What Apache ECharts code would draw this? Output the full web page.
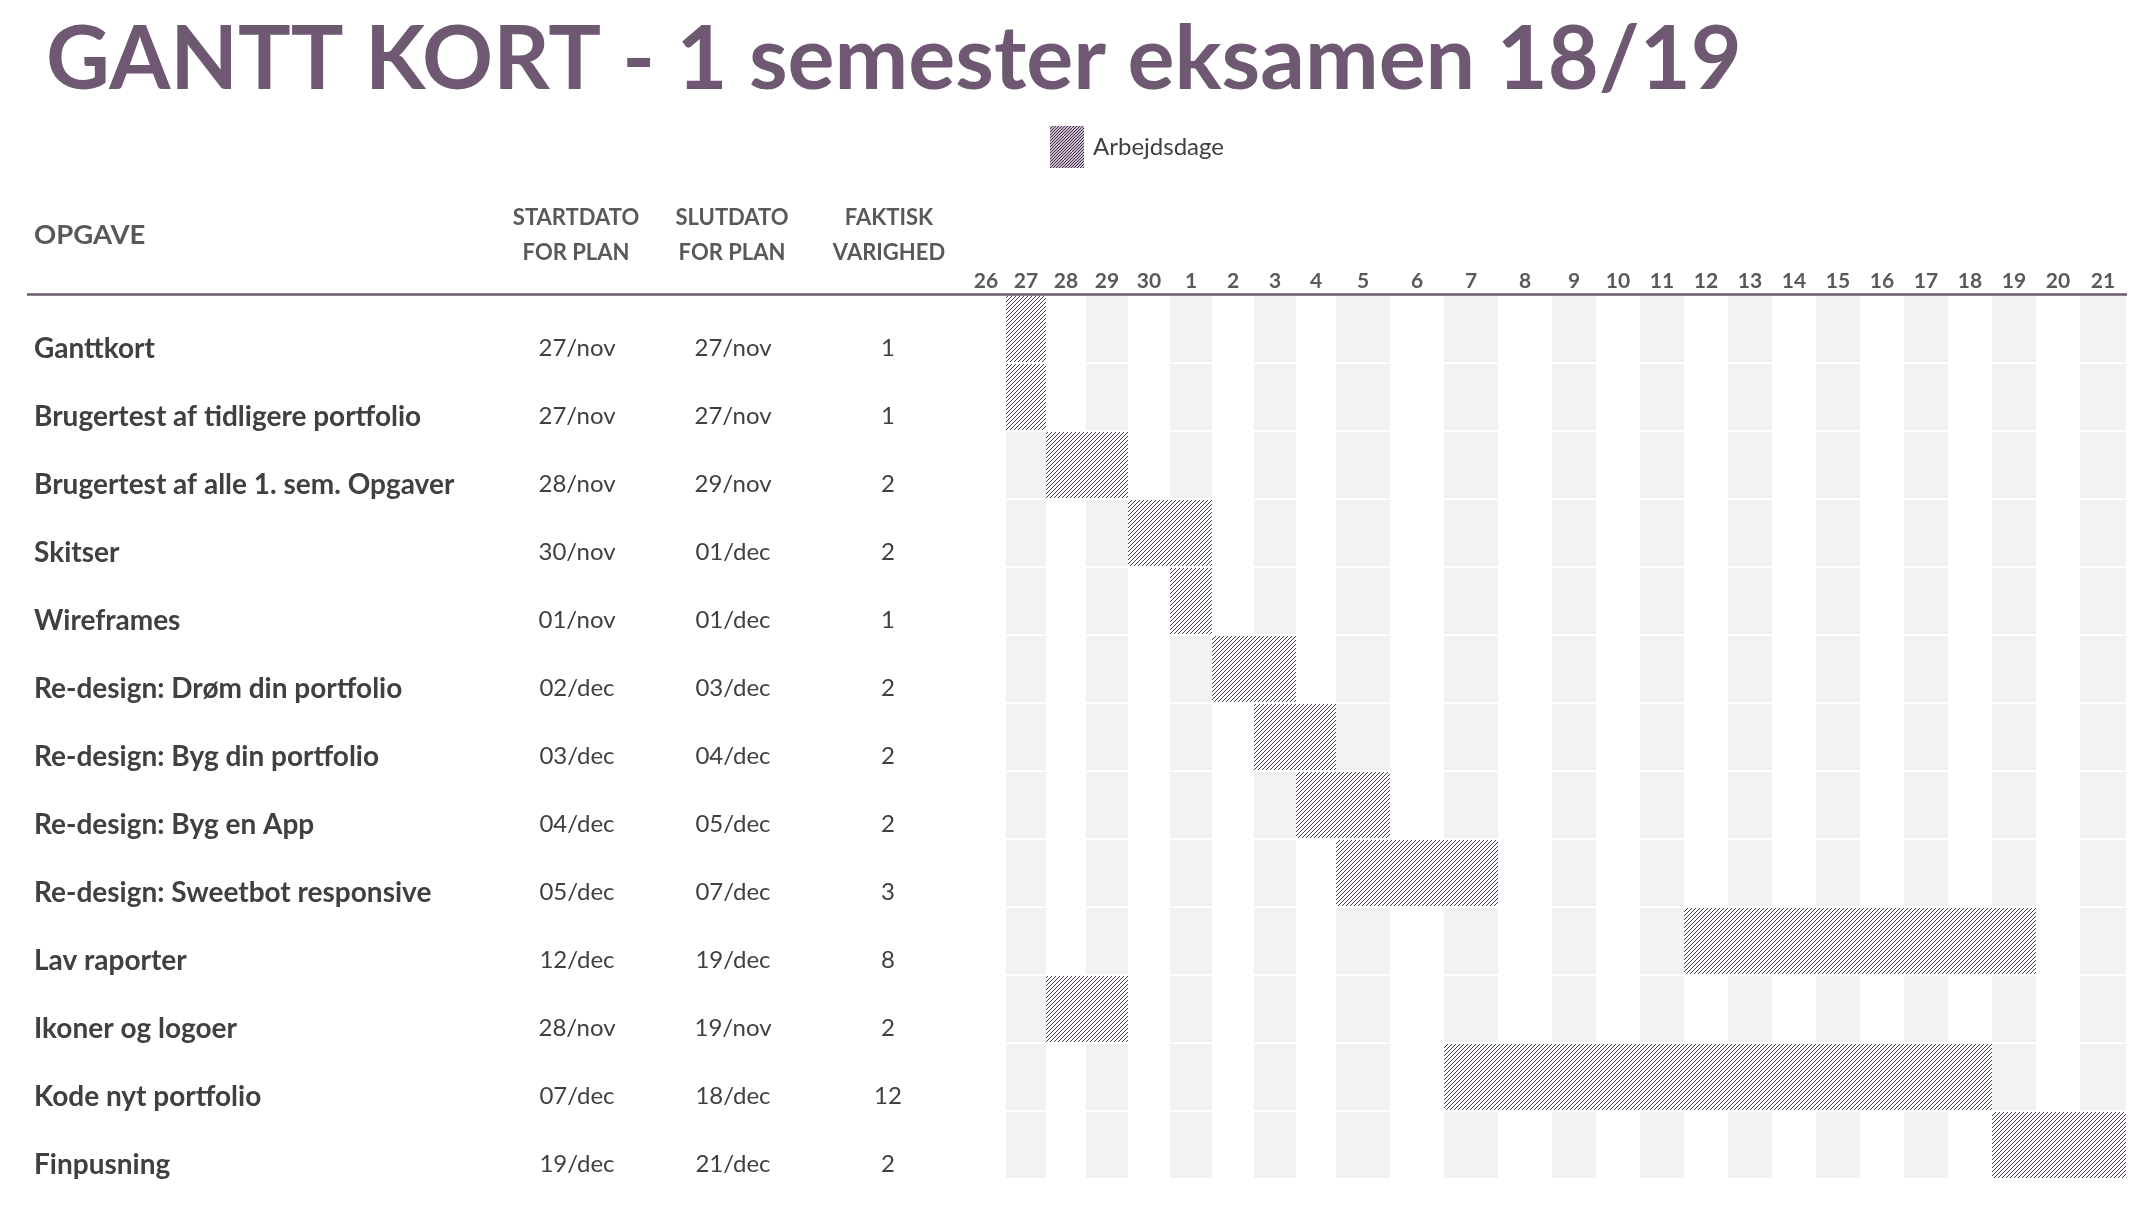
<!DOCTYPE html>
<html><head><meta charset="utf-8">
<script src="https://cdn.jsdelivr.net/npm/echarts@6/dist/echarts.min.js"></script>
<style>html,body{margin:0;padding:0;background:#fff}#c{width:2142px;height:1206px}</style>
</head><body><div id="c"></div>
<script>
// ---------------- DATA ----------------
const titleText = 'GANTT KORT - 1 semester eksamen 18/19';
const legendName = 'Arbejdsdage';
const headerTask = 'OPGAVE';
const headerStart = ['STARTDATO', 'FOR PLAN'];
const headerEnd = ['SLUTDATO', 'FOR PLAN'];
const headerDur = ['FAKTISK', 'VARIGHED'];
const days = ['26','27','28','29','30','1','2','3','4','5','6','7','8','9','10','11','12','13','14','15','16','17','18','19','20','21'];
const tasks = ['Ganttkort','Brugertest af tidligere portfolio','Brugertest af alle 1. sem. Opgaver','Skitser','Wireframes','Re-design: Drøm din portfolio','Re-design: Byg din portfolio','Re-design: Byg en App','Re-design: Sweetbot responsive','Lav raporter','Ikoner og logoer','Kode nyt portfolio','Finpusning'];
const startDates = ['27/nov','27/nov','28/nov','30/nov','01/nov','02/dec','03/dec','04/dec','05/dec','12/dec','28/nov','07/dec','19/dec'];
const endDates = ['27/nov','27/nov','29/nov','01/dec','01/dec','03/dec','04/dec','05/dec','07/dec','19/dec','19/nov','18/dec','21/dec'];
const durations = ['1','1','2','2','1','2','2','2','3','8','2','12','2'];
const barStartDay = ['27','27','28','30','1','2','3','4','5','12','28','7','19'];
const barDayCount = [1,1,2,2,1,2,2,2,3,8,2,12,3];

// ---------------- LAYOUT / STYLE ----------------
const dayColWidths = [40,40,40,42,42,42,42,42,40,54,54,54,54,44,44,44,44,44,44,44,44,44,44,44,44,46];
const colEdges = [0];
dayColWidths.forEach(w => colEdges.push(colEdges[colEdges.length - 1] + w));
const colCenters = dayColWidths.map((w, i) => colEdges[i] + w / 2);
const FONT = 'Lato';
const PURPLE = '#6e5872';
const HATCH = '#47374f';

function makeHatch(bg, fg, p) {
  const c = document.createElement('canvas');
  c.width = p; c.height = p;
  const g = c.getContext('2d');
  g.fillStyle = bg; g.fillRect(0, 0, p, p);
  g.fillStyle = fg;
  for (let k = 0; k < p; k++) g.fillRect(k, p - 1 - k, 1, 1);
  return { image: c, repeat: 'repeat' };
}
const barPattern = makeHatch('#ffffff', HATCH, 4);
const legendPattern = makeHatch('#c9b7cc', HATCH, 3);

// data derived for series
const cellData = [];
tasks.forEach((t, r) => days.forEach((d, j) => { if (j % 2 === 1) cellData.push([j, j + 1, r]); }));
const barData = tasks.map((t, r) => {
  const s = days.indexOf(barStartDay[r]);
  return [s, s + barDayCount[r], r];
});
const tableData = tasks.map((t, r) => [0, r]);

function rectOf(d0, d1, row, api) {
  const x0 = api.coord([colEdges[d0], row])[0];
  const x1 = api.coord([colEdges[d1], row])[0];
  const yc = api.coord([0, row])[1];
  const bh = api.size([0, 1])[1];
  return { x: x0, y: yc - bh / 2, width: x1 - x0, height: bh - 2 };
}

const chart = echarts.init(document.getElementById('c'), null, { renderer: 'canvas' });
const txt = (text, x, y, size, weight, color, align) => ({
  type: 'text', x: 0, y: 0, silent: true,
  style: { text, x, y, fontFamily: FONT, fontSize: size, fontWeight: weight, fill: color, align: align, verticalAlign: 'middle' }
});

chart.setOption({
  animation: false,
  backgroundColor: '#ffffff',
  title: {
    text: titleText, left: 41, top: 12,
    textStyle: { fontFamily: FONT, fontSize: 88, fontWeight: 'bold', color: PURPLE }
  },
  legend: {
    data: [{ name: legendName, icon: 'rect', itemStyle: { color: legendPattern } }],
    left: 1050, top: 126, padding: 0, itemWidth: 34, itemHeight: 42, selectedMode: false,
    textStyle: { fontFamily: FONT, fontSize: 24, color: '#404040', padding: [0, 0, 0, 4] }
  },
  grid: { left: 966, width: colEdges[colEdges.length - 1], top: 296, height: 884 },
  xAxis: {
    type: 'value', position: 'top', min: 0, max: colEdges[colEdges.length - 1],
    axisLine: { show: false }, axisTick: { show: false }, splitLine: { show: false },
    axisLabel: {
      customValues: colCenters,
      formatter: v => { const i = colCenters.indexOf(Math.round(v)); return i >= 0 ? days[i] : ''; },
      fontFamily: FONT, fontSize: 21, fontWeight: 'bold', color: '#595959', margin: 4
    }
  },
  yAxis: {
    type: 'category', data: tasks, inverse: true,
    axisLine: { show: false }, axisTick: { show: false }, axisLabel: { show: false }, splitLine: { show: false }
  },
  graphic: [
    { type: 'line', silent: true, shape: { x1: 27, y1: 294.5, x2: 2127, y2: 294.5 }, style: { stroke: PURPLE, lineWidth: 2.5 } },
    txt(headerTask, 34, 235, 27.5, 'bold', '#595959', 'left'),
    txt(headerStart[0], 576, 218, 22, 'bold', '#595959', 'center'),
    txt(headerStart[1], 576, 253, 22, 'bold', '#595959', 'center'),
    txt(headerEnd[0], 732, 218, 22, 'bold', '#595959', 'center'),
    txt(headerEnd[1], 732, 253, 22, 'bold', '#595959', 'center'),
    txt(headerDur[0], 889, 218, 22, 'bold', '#595959', 'center'),
    txt(headerDur[1], 889, 253, 22, 'bold', '#595959', 'center')
  ],
  series: [
    {
      type: 'custom', name: 'cells', silent: true, z: 1, data: cellData,
      renderItem: (params, api) => ({
        type: 'rect', shape: rectOf(api.value(0), api.value(1), api.value(2), api),
        style: { fill: '#f2f2f2' }
      })
    },
    {
      type: 'custom', name: legendName, silent: true, z: 2, data: barData,
      itemStyle: { color: barPattern },
      renderItem: (params, api) => ({
        type: 'rect', shape: rectOf(api.value(0), api.value(1), api.value(2), api),
        style: { fill: barPattern }
      })
    },
    {
      type: 'custom', name: 'table', silent: true, z: 3, data: tableData,
      renderItem: (params, api) => {
        const r = api.value(1);
        const y = api.coord([0, r])[1] + 18.5;
        return {
          type: 'group', children: [
            { type: 'text', style: { text: tasks[r], x: 34, y, fontFamily: FONT, fontSize: 28, fontWeight: 'bold', fill: '#404040', align: 'left', verticalAlign: 'middle' } },
            { type: 'text', style: { text: startDates[r], x: 577, y, fontFamily: FONT, fontSize: 24, fill: '#404040', align: 'center', verticalAlign: 'middle' } },
            { type: 'text', style: { text: endDates[r], x: 733, y, fontFamily: FONT, fontSize: 24, fill: '#404040', align: 'center', verticalAlign: 'middle' } },
            { type: 'text', style: { text: durations[r], x: 888, y, fontFamily: FONT, fontSize: 24, fill: '#404040', align: 'center', verticalAlign: 'middle' } }
          ]
        };
      }
    }
  ]
});
</script></body></html>
